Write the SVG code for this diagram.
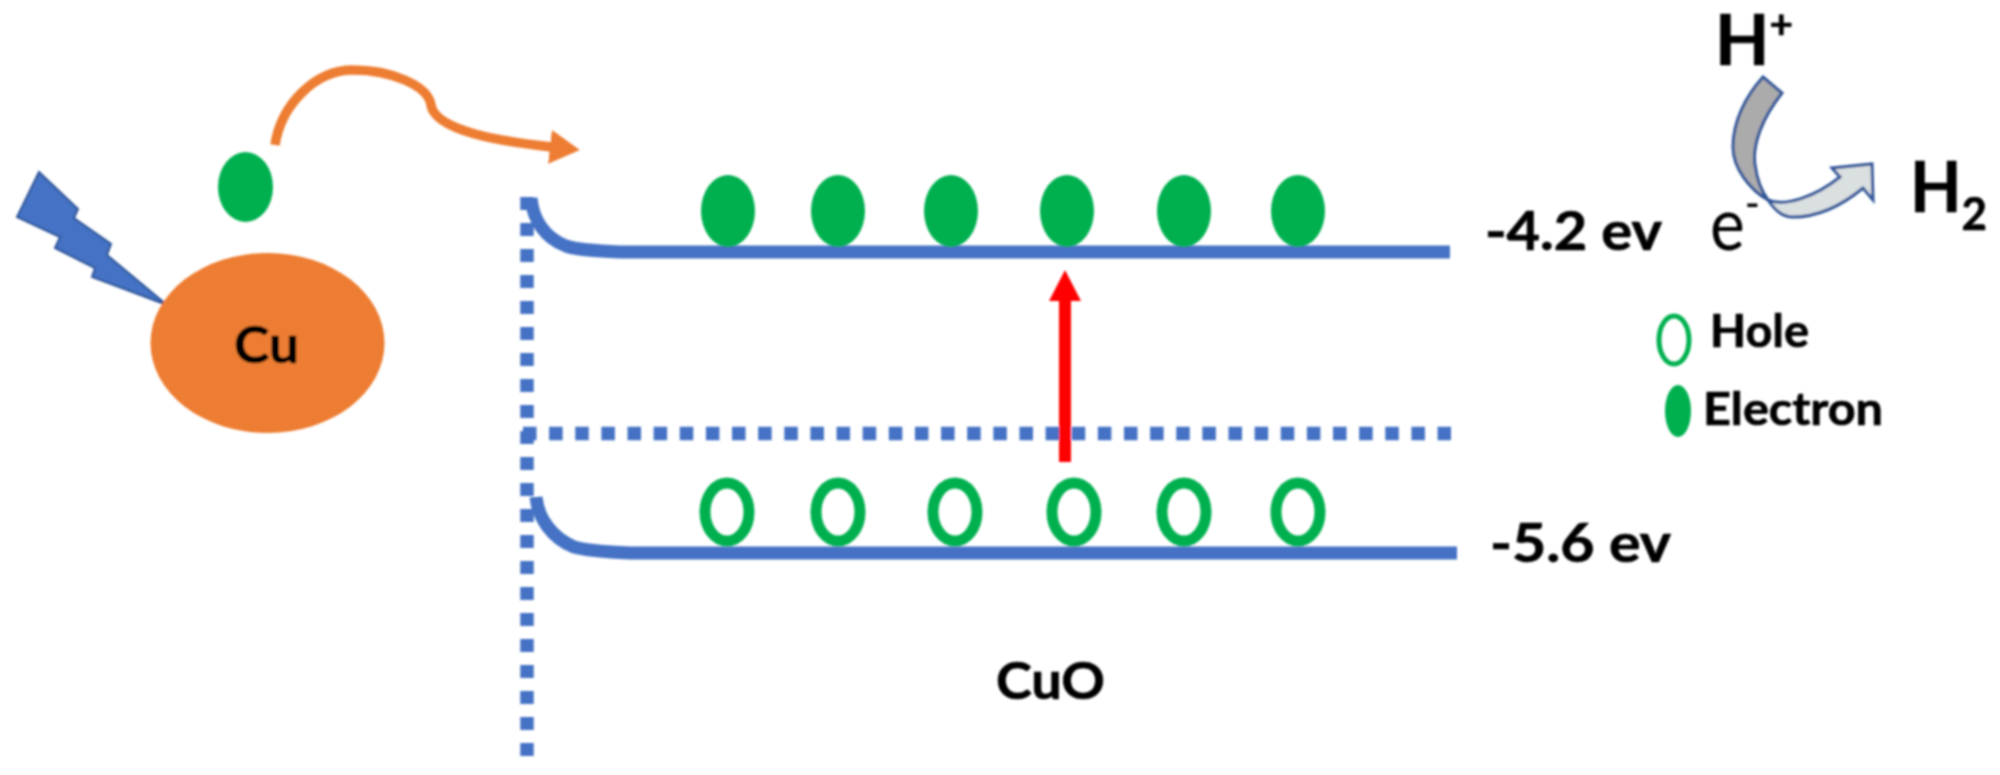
<svg xmlns="http://www.w3.org/2000/svg" width="2000" height="775" viewBox="0 0 2000 775">
<style>
text{font-family:"Lato","Open Sans","Liberation Sans",sans-serif;fill:#000}
.b{font-weight:700;stroke:#000;stroke-width:.7}
.band{fill:none;stroke:#4472C4;stroke-width:13}
.dash{fill:none;stroke:#4472C4;stroke-width:13.5}
.e{fill:#00B050}
.h{fill:none;stroke:#00B050;stroke-width:11}
.cu{stroke:#2F5597;stroke-width:3;stroke-linejoin:miter}
</style>
<defs>
<filter id="soft" x="-2%" y="-2%" width="104%" height="104%"><feGaussianBlur stdDeviation="0.8"/></filter>
<marker id="orangeHead" markerUnits="userSpaceOnUse" markerWidth="32" markerHeight="34" refX="2" refY="17" orient="auto"><path d="M0 0L30 17L0 34Z" fill="#ED7D31"/></marker>
<marker id="redHead" markerUnits="userSpaceOnUse" markerWidth="32" markerHeight="32" refX="2" refY="16" orient="auto"><path d="M0 0L31 16L0 32Z" fill="#FF0000"/></marker>
</defs>
<rect width="2000" height="775" fill="#fff"/>
<g filter="url(#soft)">
<g id="connectors">
<path d="M275 145C281 105 315 70 353 70C390 70 428 85 431 105C433 118 450 127 475 134C500 141 525 144 552 147" fill="none" stroke="#ED7D31" stroke-width="9.5" marker-end="url(#orangeHead)"/>
<path d="M1065 462V299" fill="none" stroke="#FF0000" stroke-width="12" marker-end="url(#redHead)"/>
<path class="dash" stroke-dasharray="13 13" d="M527 197V760"/>
<path class="dash" stroke-dasharray="13.5 12.63" d="M523 433.5H1451"/>
<path class="band" d="M531 198C533 220 545 238 566 246C578 250 595 251 620 252H1450"/>
<path class="band" d="M536 497C538 518 552 538 574 547C588 551 605 552 630 553H1457"/>
</g>
<g id="lightning"><path d="M39 172L78 209L74 218L111 244L107 255L167 305L92 277L95 268L55 248L60 237L17 217Z" fill="#4472C4" stroke="#2F5597" stroke-width="2"/></g>
<g id="cu-particle"><ellipse cx="267.500" cy="343" rx="117" ry="90" fill="#ED7D31"/><text class="b" x="234" y="363" font-size="52" textLength="65" lengthAdjust="spacingAndGlyphs">Cu</text></g>
<g id="free-electron"><ellipse class="e" cx="245.500" cy="187" rx="27.500" ry="35"/></g>
<g id="electrons">
<ellipse class="e" cx="728" cy="211" rx="27" ry="36"/>
<ellipse class="e" cx="838" cy="211" rx="27" ry="36"/>
<ellipse class="e" cx="951" cy="211" rx="27" ry="36"/>
<ellipse class="e" cx="1067" cy="211" rx="27" ry="36"/>
<ellipse class="e" cx="1184" cy="211" rx="27" ry="36"/>
<ellipse class="e" cx="1298" cy="211" rx="27" ry="36"/>
</g>
<g id="holes">
<ellipse class="h" cx="727" cy="512" rx="22" ry="29"/>
<ellipse class="h" cx="838" cy="512" rx="22" ry="29"/>
<ellipse class="h" cx="955" cy="512" rx="22" ry="29"/>
<ellipse class="h" cx="1074" cy="512" rx="22" ry="29"/>
<ellipse class="h" cx="1184" cy="512" rx="22" ry="29"/>
<ellipse class="h" cx="1298" cy="512" rx="22" ry="29"/>
</g>
<g id="label-42"><text class="b" x="1485" y="250" font-size="53" textLength="177" lengthAdjust="spacingAndGlyphs">-4.2 ev</text></g>
<g id="label-56"><text class="b" x="1490" y="562" font-size="53" textLength="181" lengthAdjust="spacingAndGlyphs">-5.6 ev</text></g>
<g id="label-cuo"><text class="b" x="996" y="699" font-size="52" textLength="109" lengthAdjust="spacingAndGlyphs">CuO</text></g>
<g id="reaction">
<path class="cu" d="M1768 200C1785 207 1815 197 1840 177L1832 168L1872 164L1873 200L1863 188C1840 207 1815 217 1793 217C1782 217 1775 210 1768 200Z" fill="#DADFE0"/>
<path class="cu" d="M1763 77L1782 93C1762 118 1752 145 1755 165C1757 180 1762 192 1768 200C1750 190 1733 168 1733 147C1733 122 1745 97 1763 77Z" fill="#ABABAB"/>
<text class="b" x="1715" y="65" font-size="70" textLength="78" lengthAdjust="spacingAndGlyphs">H<tspan font-size="40" dy="-27">+</tspan></text>
<text class="b" x="1910" y="212" font-size="70" textLength="77" lengthAdjust="spacingAndGlyphs">H<tspan font-size="46" dy="18">2</tspan></text>
<text x="1710" y="250" font-size="74" textLength="50" lengthAdjust="spacingAndGlyphs">e<tspan font-size="46" dy="-31">-</tspan></text>
</g>
<g id="legend-hole"><ellipse cx="1674" cy="340" rx="15" ry="24" fill="none" stroke="#00B050" stroke-width="5"/><text class="b" x="1710" y="347" font-size="46" textLength="99" lengthAdjust="spacingAndGlyphs">Hole</text></g>
<g id="legend-electron"><ellipse class="e" cx="1678" cy="411" rx="13" ry="26"/><text class="b" x="1703" y="425" font-size="46" textLength="180" lengthAdjust="spacingAndGlyphs">Electron</text></g>
</g>
</svg>
